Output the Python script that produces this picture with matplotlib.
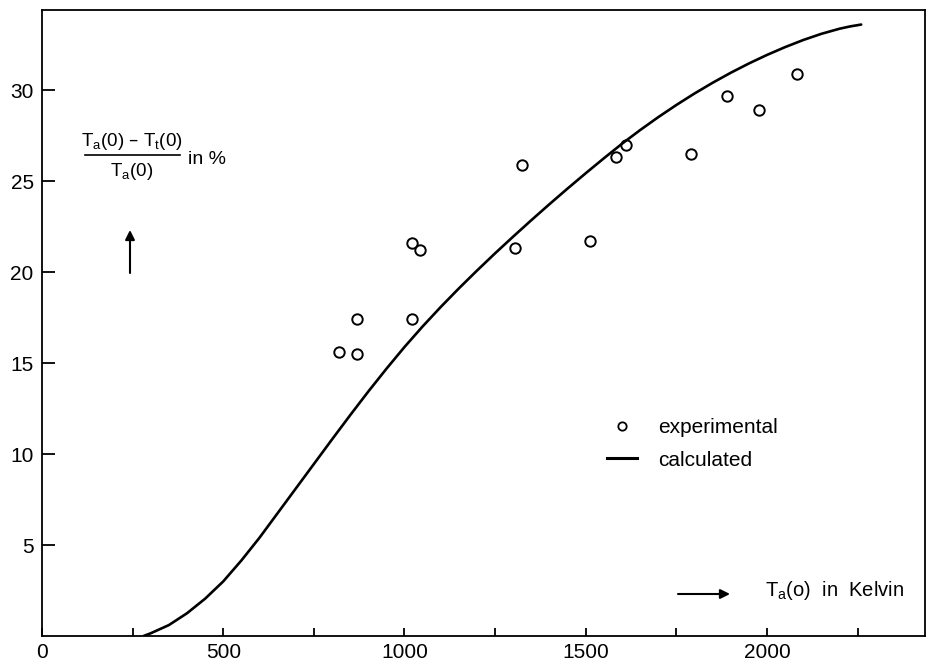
import matplotlib
matplotlib.use("Agg")
import matplotlib.pyplot as plt
from matplotlib.lines import Line2D

plt.rcParams['font.family'] = ['Liberation Sans', 'DejaVu Sans']
plt.rcParams['mathtext.default'] = 'regular'

# Measured relative temperature drop
exp_T = [820, 870, 870, 1022, 1044, 1022, 1304, 1323, 1511, 1583, 1610, 1790, 1890, 1978, 2083]
exp_val = [15.6, 17.4, 15.5, 21.6, 21.2, 17.4, 21.3, 25.9, 21.7, 26.3, 27.0, 26.5, 29.7, 28.9, 30.9]

# Calculated curve
calc_T = [280, 300, 350, 400, 450, 500, 550, 600, 650, 700, 750, 800, 850, 900, 950,
          1000, 1050, 1100, 1150, 1200, 1250, 1300, 1350, 1400, 1450, 1500, 1550,
          1600, 1650, 1700, 1750, 1800, 1850, 1900, 1950, 2000, 2050, 2100, 2150,
          2200, 2230, 2260]
calc_val = [0.0, 0.15, 0.6, 1.25, 2.05, 3.0, 4.15, 5.4, 6.75, 8.1, 9.45, 10.8, 12.13,
            13.43, 14.68, 15.88, 17.01, 18.08, 19.10, 20.08, 21.03, 21.95, 22.85,
            23.73, 24.59, 25.43, 26.25, 27.05, 27.80, 28.51, 29.18, 29.81, 30.40,
            30.95, 31.46, 31.93, 32.36, 32.75, 33.09, 33.37, 33.50, 33.60]

x_major = [0, 500, 1000, 1500, 2000]
x_minor = [250, 750, 1250, 1750, 2250]
y_major = [5, 10, 15, 20, 25, 30]

W, H = 929, 665
fig = plt.figure(figsize=(W / 100, H / 100), dpi=100)
L, R, B, T = 42, 925, 636, 10
ax = fig.add_axes([L / W, (H - B) / H, (R - L) / W, (B - T) / H])


def afrac(px, py):
    return (px - L) / (R - L), (B - py) / (B - T)


ax.plot(calc_T, calc_val, color='black', lw=1.9, solid_capstyle='round',
        solid_joinstyle='round')
ax.plot(exp_T, exp_val, linestyle='none', marker='o', ms=7.5, mfc='none',
        mec='black', mew=1.4)

ax.set_xlim(0, 2436)
ax.set_ylim(0, 34.4)
ax.set_xticks(x_major)
ax.set_xticks(x_minor, minor=True)
ax.set_yticks(y_major)
ax.tick_params(axis='both', which='both', direction='in', labelsize=15,
               width=1.3, color='black')
ax.tick_params(axis='y', length=9, pad=6)
ax.tick_params(axis='x', which='both', length=6, pad=5)
for s in ax.spines.values():
    s.set_linewidth(1.3)

# y quantity: fraction with "in %"
fx, fy = afrac(132, 141)
ax.text(fx, fy, r'T$_{a}$(0) – T$_{t}$(0)', transform=ax.transAxes,
        ha='center', va='center', fontsize=13.5)
x0, yl = afrac(85, 155)
x1, _ = afrac(180, 155)
ax.add_line(Line2D([x0, x1], [yl, yl], transform=ax.transAxes, color='black', lw=1.2))
fx, fy = afrac(132, 171)
ax.text(fx, fy, r'T$_{a}$(0)', transform=ax.transAxes,
        ha='center', va='center', fontsize=13.5)
fx, fy = afrac(188, 159)
ax.text(fx, fy, 'in %', transform=ax.transAxes, ha='left', va='center', fontsize=14)
ax.annotate('', xy=afrac(130, 230), xytext=afrac(130, 273),
            xycoords='axes fraction', textcoords='axes fraction',
            arrowprops=dict(arrowstyle='-|>', color='black', lw=1.5,
                            mutation_scale=14, shrinkA=0, shrinkB=0))

# x quantity
ax.annotate('', xy=afrac(730, 594), xytext=afrac(678, 594),
            xycoords='axes fraction', textcoords='axes fraction',
            arrowprops=dict(arrowstyle='-|>', color='black', lw=1.5,
                            mutation_scale=14, shrinkA=0, shrinkB=0))
fx, fy = afrac(765, 591)
ax.text(fx, fy, r'T$_{a}$(o)  in  Kelvin', transform=ax.transAxes,
        ha='left', va='center', fontsize=14.5)

handles = [Line2D([], [], linestyle='none', marker='o', ms=6, mfc='none',
                  mec='black', mew=1.3),
           Line2D([], [], color='black', lw=2.2)]
ax.legend(handles, ['experimental', 'calculated'], loc='upper left',
          bbox_to_anchor=afrac(607, 418), bbox_transform=ax.transAxes,
          frameon=False, borderpad=0, borderaxespad=0, fontsize=15,
          handlelength=1.45, handletextpad=1.0, labelspacing=0.65)

fig.savefig('out.png', dpi=100)
